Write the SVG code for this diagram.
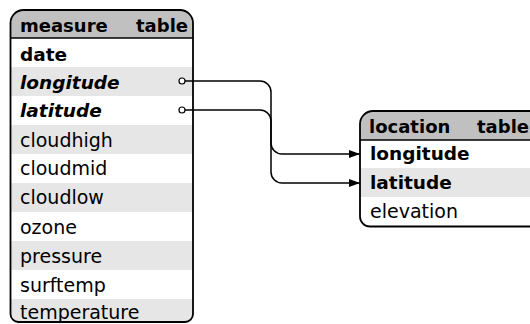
<svg xmlns="http://www.w3.org/2000/svg" width="530" height="324" viewBox="0 0 530 324">
<style>
text{font-family:"DejaVu Sans",sans-serif;font-size:19px;fill:#000}
.h{font-weight:bold;font-size:18px}
.b{font-weight:bold;font-size:18.5px}
.bi{font-weight:bold;font-style:italic;font-size:18.5px}
.hdr{fill:#c0c0c0}
.alt{fill:#e6e6e6}
.frame{fill:none;stroke:#000;stroke-width:1.8}
.sep{stroke:#000;stroke-width:1.4}
.conn{fill:none;stroke:#000;stroke-width:1.5}
.dot{fill:#fff;stroke:#000;stroke-width:1.2}
</style>
<defs>
<clipPath id="cm"><path d="M10.5,23 A13,13 0 0 1 23.5,10 H180 A13,13 0 0 1 193,23 V314 A8,8 0 0 1 185,322 H18.5 A8,8 0 0 1 10.5,314 Z"/></clipPath>
<clipPath id="cl"><path d="M360,124 A13,13 0 0 1 373,111 H545 V226.5 H370 A10,10 0 0 1 360,216.5 Z"/></clipPath>
<marker id="arr" viewBox="0 0 11 8" refX="11" refY="4" markerWidth="11" markerHeight="8" markerUnits="userSpaceOnUse" orient="auto">
<path d="M0,0 L11,4 L0,8 Z" fill="#000"/>
</marker>
</defs>
<g id="measure">
<g clip-path="url(#cm)">
<rect x="0" y="0" width="200" height="38" class="hdr"/>
<rect x="0" y="38" width="200" height="290" fill="#fff"/>
<rect x="0" y="67" width="200" height="29" class="alt"/>
<rect x="0" y="125" width="200" height="29" class="alt"/>
<rect x="0" y="183" width="200" height="29" class="alt"/>
<rect x="0" y="241" width="200" height="29" class="alt"/>
<rect x="0" y="299" width="200" height="30" class="alt"/>
</g>
<line x1="10.5" y1="38" x2="193" y2="38" class="sep"/>
<path d="M10.5,23 A13,13 0 0 1 23.5,10 H180 A13,13 0 0 1 193,23 V314 A8,8 0 0 1 185,322 H18.5 A8,8 0 0 1 10.5,314 Z" class="frame"/>
<text class="h" y="32"><tspan x="20">measure</tspan><tspan x="136">table</tspan></text>
<text class="b" x="20" y="61">date</text>
<text class="bi" x="20" y="89">longitude</text>
<text class="bi" x="20" y="117">latitude</text>
<text x="20" y="147">cloudhigh</text>
<text x="20" y="175">cloudmid</text>
<text x="20" y="204">cloudlow</text>
<text x="20" y="234">ozone</text>
<text x="20" y="263">pressure</text>
<text x="20" y="292">surftemp</text>
<text x="20" y="319">temperature</text>
</g>
<g id="location">
<g clip-path="url(#cl)">
<rect x="350" y="100" width="200" height="40" class="hdr"/>
<rect x="350" y="140" width="200" height="90" fill="#fff"/>
<rect x="350" y="168" width="200" height="29" class="alt"/>
</g>
<line x1="360" y1="140" x2="545" y2="140" class="sep"/>
<path d="M360,124 A13,13 0 0 1 373,111 H545 V226.5 H370 A10,10 0 0 1 360,216.5 Z" class="frame"/>
<text class="h" y="133"><tspan x="369">location</tspan><tspan x="477">table</tspan></text>
<text class="b" x="370" y="160">longitude</text>
<text class="b" x="370" y="189">latitude</text>
<text x="370" y="218">elevation</text>
</g>
<g id="connectors">
<path d="M185,81 H260 A11,11 0 0 1 271,92 V143 A11,11 0 0 0 282,154 H360" class="conn" marker-end="url(#arr)"/>
<path d="M185,110 H260 A11,11 0 0 1 271,121 V172 A11,11 0 0 0 282,183 H360" class="conn" marker-end="url(#arr)"/>
<circle cx="182" cy="81" r="3" class="dot"/>
<circle cx="182" cy="110" r="3" class="dot"/>
</g>
</svg>
